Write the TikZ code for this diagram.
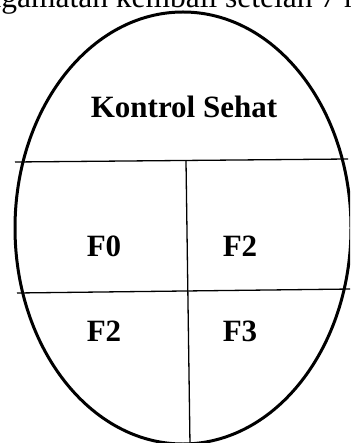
\documentclass[tikz,border=0pt]{standalone}
\usepackage{fontspec}
\setmainfont{Liberation Serif}
\tikzset{
  lbl/.style={anchor=base, inner sep=0pt, font=\fontsize{31}{31}\selectfont\bfseries},
  divider/.style={line width=1.3pt},
  outline/.style={line width=3pt}
}
\begin{document}
\begin{tikzpicture}[x=1pt,y=-1pt]
\useasboundingbox (0,0) rectangle (350,443);
\clip (0,0) rectangle (350,443);
% caption line clipped at top
\node[anchor=base west, inner sep=0pt, font=\fontsize{31.5}{31.5}\selectfont] (cap) at (225,7.5) {\llap{Pengamatan kembali }setelah 7 hari};
% outline
\draw[outline] (183,228) ellipse [x radius=168, y radius=216];
% dividers
\coordinate (h1a) at (15,162);
\coordinate (h1b) at (348,159);
\coordinate (h2a) at (17,293);
\coordinate (h2b) at (352,289);
\coordinate (v1a) at (186,161);
\coordinate (v1b) at (190,445);
\draw[divider] (h1a) -- (h1b);
\draw[divider] (h2a) -- (h2b);
\draw[divider] (v1a) -- (v1b);
% labels
\node[lbl] (title) at (184,118) {Kontrol Sehat};
\node[lbl] (a) at (104,256) {F0};
\node[lbl] (b) at (240,256) {F2};
\node[lbl] (c) at (104,341) {F2};
\node[lbl] (d) at (240,341) {F3};
\end{tikzpicture}
\end{document}
